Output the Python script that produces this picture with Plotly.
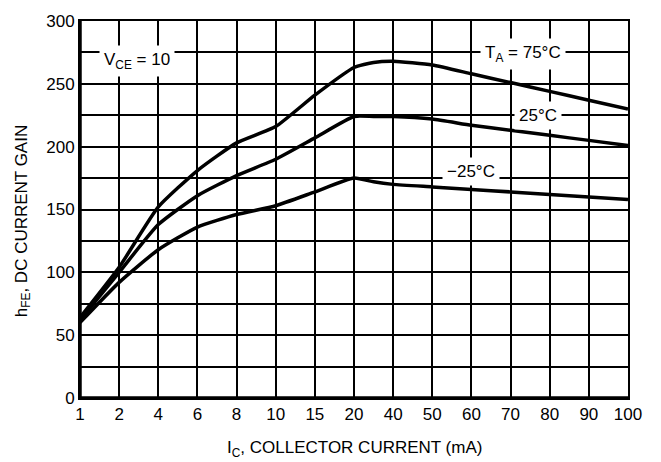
import numpy as np
import plotly.graph_objects as go

# axis tick currents (evenly spaced on the chart) and labels
tick_currents = [1, 2, 4, 6, 8, 10, 15, 20, 40, 50, 60, 70, 80, 90, 100]
tick_labels = ["1", "2", "4", "6", "8", "10", "15", "20", "40", "50", "60", "70", "80", "90", "100"]
y_ticks = [0, 50, 100, 150, 200, 250, 300]

# data
currents = [1, 2, 4, 6, 8, 10, 15, 20, 30, 40, 50, 60, 70, 80, 90, 100]
hfe_75 = [64, 104, 152, 181, 203, 216, 241, 263, 267, 268, 265, 258, 251, 244, 237, 230]
hfe_25 = [62, 100, 138, 161, 177, 190, 207, 224, 224, 224, 222, 217, 213, 209, 205, 201]
hfe_m25 = [60, 92, 118, 136, 146, 153, 164, 175, 172, 170, 168, 166, 164, 162, 160, 158]

tick_index = list(range(len(tick_currents)))


def pos(c):
    return np.interp(c, tick_currents, tick_index)


FONT = "Liberation Sans, Arial, sans-serif"
FS = 17
fig = go.Figure()
for ys in (hfe_75, hfe_25, hfe_m25):
    fig.add_trace(go.Scatter(x=pos(currents), y=ys, mode="lines",
                             line=dict(color="black", width=3.5, shape="spline", smoothing=0.5),
                             showlegend=False, hoverinfo="skip"))

fig.update_layout(
    width=661, height=462,
    margin=dict(l=80, r=33, t=14, b=64),
    paper_bgcolor="white", plot_bgcolor="white",
    font=dict(family=FONT, size=FS, color="black"),
    xaxis=dict(range=[0, 14], tickvals=tick_index, ticktext=tick_labels,
               showgrid=True, gridcolor="black", gridwidth=1.5,
               showline=True, linecolor="black", linewidth=2, mirror=True,
               zeroline=False, ticks="", fixedrange=True),
    yaxis=dict(range=[0, 300], tickvals=y_ticks,
               showgrid=True, gridcolor="black", gridwidth=1.5,
               minor=dict(dtick=25, showgrid=True, gridcolor="black", gridwidth=1.5, ticks=""),
               showline=True, linecolor="black", linewidth=2, mirror=True,
               zeroline=False, ticks="", fixedrange=True),
)

# thicker left and bottom frame
fig.add_shape(type="line", xref="paper", yref="paper", x0=0, x1=0, y0=0, y1=1,
              line=dict(color="black", width=3.5))
fig.add_shape(type="line", xref="paper", yref="paper", x0=0, x1=1, y0=0, y1=0,
              line=dict(color="black", width=3.5))

labels = [
    ("V<sub>CE</sub> = 10", 1.46, 268),
    ("T<sub>A</sub> = 75°C", 11.32, 274),
    ("25°C", 11.7, 225),
    ("−25°C", 10.0, 180),
]
for text, x, y in labels:
    fig.add_annotation(x=x, y=y, text=text, showarrow=False, bgcolor="white",
                       borderpad=4, font=dict(family=FONT, size=FS, color="black"))

fig.add_annotation(xref="paper", yref="paper", x=0.5, y=-0.1, yanchor="top",
                   text="I<sub>C</sub>, COLLECTOR CURRENT (mA)", showarrow=False,
                   font=dict(family=FONT, size=FS, color="black"))
fig.add_annotation(xref="paper", yref="paper", x=-0.105, y=0.47, xanchor="center",
                   text="h<sub>FE</sub>, DC CURRENT GAIN", showarrow=False, textangle=-90,
                   font=dict(family=FONT, size=FS, color="black"))

fig.write_html("out.html", config={"displayModeBar": False})

# remove the default page margin so the figure fills the window exactly
with open("out.html", encoding="utf-8") as f:
    html = f.read()
html = html.replace("<head>", "<head><style>html,body{margin:0;padding:0;overflow:hidden;}</style>", 1)
with open("out.html", "w", encoding="utf-8") as f:
    f.write(html)
